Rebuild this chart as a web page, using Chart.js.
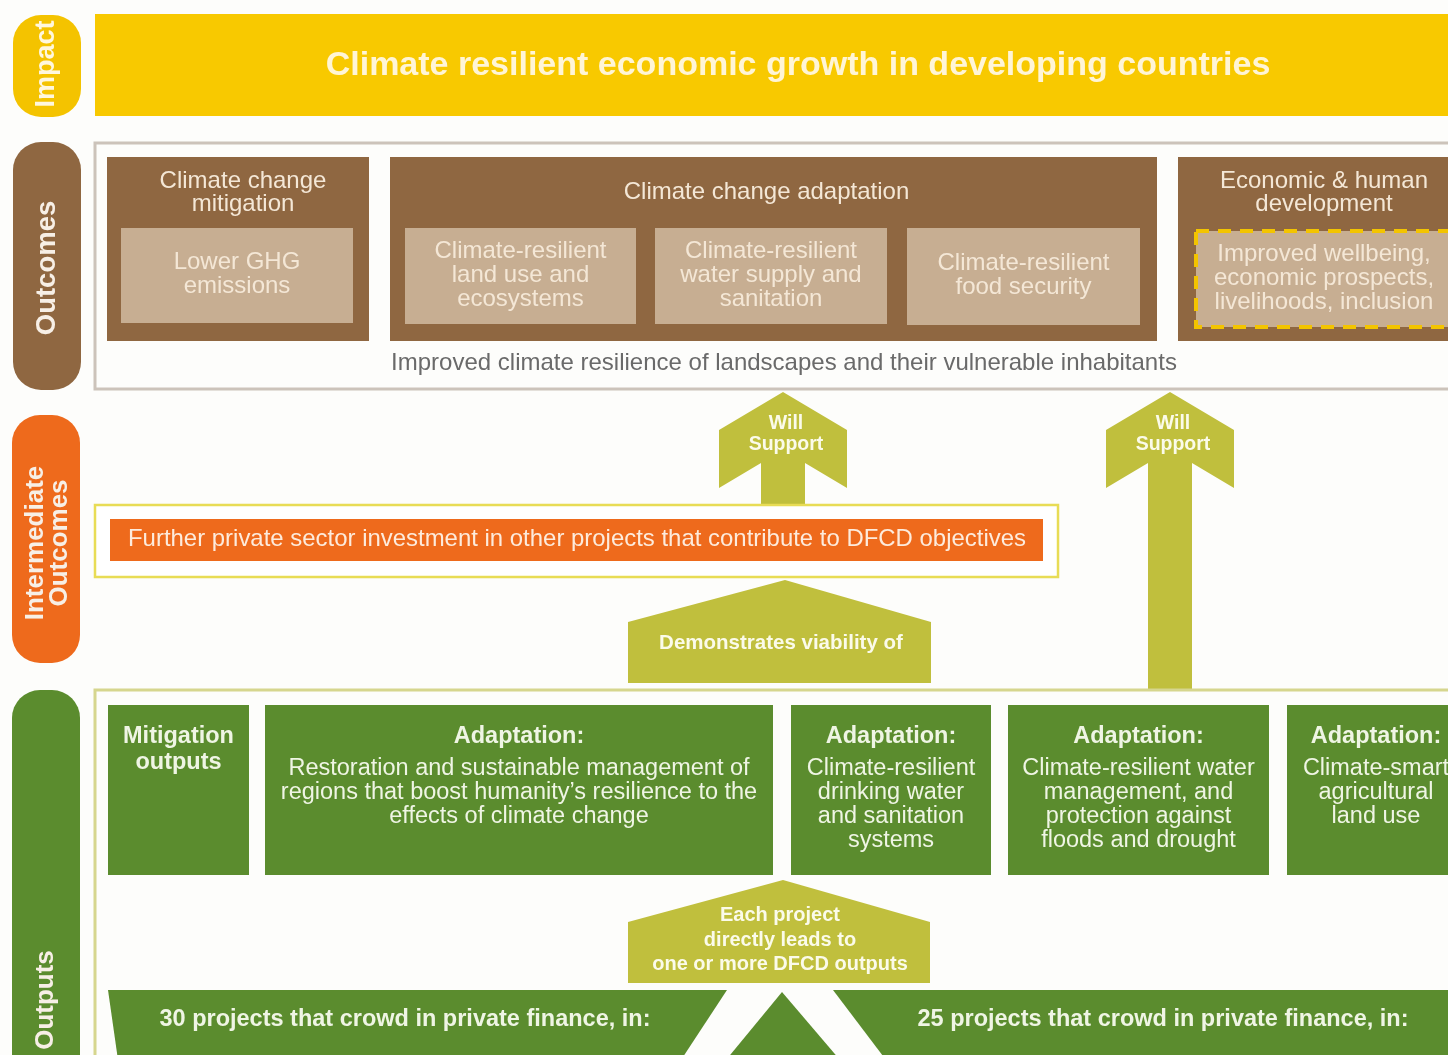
<!DOCTYPE html>
<html>
<head>
<meta charset="utf-8">
<script src="https://cdn.jsdelivr.net/npm/chart.js@4.4.1/dist/chart.umd.min.js"></script>
<style>
  html, body { margin: 0; padding: 0; background: #fdfdfb; }
  #wrap { width: 1448px; height: 1055px; }
</style>
</head>
<body>
<div id="wrap"><canvas id="c" width="1448" height="1055"></canvas></div>
<script>
// ---------- CONTENT (data) ----------
const rowLabels = ['Impact', 'Outcomes', 'Intermediate\nOutcomes', 'Outputs'];
const impactText = 'Climate resilient economic growth in developing countries';
const outcomeGroups = ['Climate change\nmitigation', 'Climate change adaptation', 'Economic & human\ndevelopment'];
const outcomeItems = [
  'Lower GHG\nemissions',
  'Climate-resilient\nland use and\necosystems',
  'Climate-resilient\nwater supply and\nsanitation',
  'Climate-resilient\nfood security',
  'Improved wellbeing,\neconomic prospects,\nlivelihoods, inclusion'
];
const outcomeCaption = 'Improved climate resilience of landscapes and their vulnerable inhabitants';
const intermediateText = 'Further private sector investment in other projects that contribute to DFCD objectives';
const arrowLabels = ['Will\nSupport', 'Will\nSupport'];
const connectorLabels = ['Demonstrates viability of', 'Each project\ndirectly leads to\none or more DFCD outputs'];
const outputTitles = ['Mitigation\noutputs', 'Adaptation:', 'Adaptation:', 'Adaptation:', 'Adaptation:'];
const outputBodies = [
  '',
  'Restoration and sustainable management of\nregions that boost humanity\u2019s resilience to the\neffects of climate change',
  'Climate-resilient\ndrinking water\nand sanitation\nsystems',
  'Climate-resilient water\nmanagement, and\nprotection against\nfloods and drought',
  'Climate-smart\nagricultural\nland use'
];
const projectCounts = [30, 25];
const projectSuffix = ' projects that crowd in private finance, in:';

// ---------- LAYOUT (diagram units on the chart's x/y scales) ----------
const L = {
  pills: [[13, 15, 81, 117], [13, 142, 81, 390], [12, 415, 80, 663], [12, 690, 80, 1090]],
  pillLabelY: [64, 268, 543, 1000],
  banner: [95, 14, 1460, 116],
  outcomesFrame: [95, 143, 1470, 389],
  groups: [[107, 157, 369, 341], [390, 157, 1157, 341], [1178, 157, 1470, 341]],
  groupTitleY: [193, 192, 193],
  items: [[121, 228, 353, 323], [405, 228, 636, 324], [655, 228, 887, 324], [907, 228, 1140, 325], [1196, 231, 1470, 327]],
  captionY: 363,
  interFrame: [95, 505, 1058, 577],
  interBar: [110, 519, 1043, 561],
  arrows: [{cx: 783, tip: 392, shoulder: 430, base: 488, notch: 463, half: 64, shaft: 22, bottom: 505},
           {cx: 1170, tip: 392, shoulder: 430, base: 488, notch: 463, half: 64, shaft: 22, bottom: 690}],
  pentagons: [{x0: 628, x1: 931, tip: 580, shoulder: 622, bottom: 683, apex: 785},
              {x0: 628, x1: 930, tip: 880, shoulder: 922, bottom: 983, apex: 783}],
  outputsFrame: [95, 690, 1470, 1080],
  outputBoxes: [[108, 705, 249, 875], [265, 705, 773, 875], [791, 705, 991, 875], [1008, 705, 1269, 875], [1287, 705, 1467, 875]],
  projLeft: [[108, 990], [727, 990], [681, 1060], [118, 1060]],
  projMid: [[782, 992], [840, 1060], [726, 1060]],
  projRight: [[833, 990], [1470, 990], [1470, 1060], [886, 1060]],
  projTextX: [405, 1163], projTextY: 1020
};
const C = {
  yellow: '#F8C900', yellowPill: '#F4C300', bannerText: '#FFF5D6',
  brown: '#8F6741', tan: '#C7AE92', brownText: '#F4E7D6', frameGrey: '#CCC3BA', caption: '#6A6A6A',
  olive: '#C0BF3D', orange: '#EE6A1C', orangeText: '#FDEBDC', interBorder: '#E8DC55',
  green: '#5B8C2E', greenText: '#EFF5E4', outBorder: '#D6D68E', dash: '#F3C400', white: '#FFFFFF'
};
const SANS = "'Liberation Sans', Arial, Helvetica, sans-serif";

// ---------- DRAWING PLUGIN ----------
const diagramPlugin = {
  id: 'diagram',
  afterDatasetsDraw(chart) {
    const ctx = chart.ctx, xs = chart.scales.x, ys = chart.scales.y;
    const X = v => xs.getPixelForValue(v), Y = v => ys.getPixelForValue(v);
    const rect = (r, fill, stroke, lw, dash) => {
      ctx.save();
      const x = X(r[0]), y = Y(r[1]), w = X(r[2]) - x, h = Y(r[3]) - y;
      if (fill) { ctx.fillStyle = fill; ctx.fillRect(x, y, w, h); }
      if (stroke) { ctx.strokeStyle = stroke; ctx.lineWidth = lw || 1; if (dash) ctx.setLineDash(dash); ctx.strokeRect(x, y, w, h); }
      ctx.restore();
    };
    const rrect = (r, rad, fill) => {
      ctx.save(); ctx.fillStyle = fill; ctx.beginPath();
      ctx.roundRect(X(r[0]), Y(r[1]), X(r[2]) - X(r[0]), Y(r[3]) - Y(r[1]), rad);
      ctx.fill(); ctx.restore();
    };
    const poly = (pts, fill) => {
      ctx.save(); ctx.fillStyle = fill; ctx.beginPath();
      pts.forEach((p, i) => i ? ctx.lineTo(X(p[0]), Y(p[1])) : ctx.moveTo(X(p[0]), Y(p[1])));
      ctx.closePath(); ctx.fill(); ctx.restore();
    };
    const text = (str, cx, cy, font, color, lh = 0, maxW = 0) => {
      const lines = str.split('\n');
      ctx.save(); ctx.font = font; ctx.fillStyle = color; ctx.textAlign = 'center'; ctx.textBaseline = 'middle';
      const y0 = Y(cy) - (lines.length - 1) * lh / 2;
      lines.forEach((ln, i) => maxW ? ctx.fillText(ln, X(cx), y0 + i * lh, maxW) : ctx.fillText(ln, X(cx), y0 + i * lh));
      ctx.restore();
    };
    const vtext = (str, cx, cy, font, color, lh, maxW) => {
      const lines = str.split('\n');
      ctx.save(); ctx.translate(X(cx), Y(cy)); ctx.rotate(-Math.PI / 2);
      ctx.font = font; ctx.fillStyle = color; ctx.textAlign = 'center'; ctx.textBaseline = 'middle';
      lines.forEach((ln, i) => ctx.fillText(ln, 0, (i - (lines.length - 1) / 2) * lh, maxW));
      ctx.restore();
    };

    // left pills
    const pillColors = [C.yellowPill, C.brown, C.orange, C.green];
    const pillFont = [27, 27.5, 26, 26];
    const pillMax = [90, 136, 164, 100];
    L.pills.forEach((r, i) => {
      rrect(r, 28, pillColors[i]);
      vtext(rowLabels[i], (r[0] + r[2]) / 2 + (i === 2 ? 2 : 0), L.pillLabelY[i], 'bold ' + pillFont[i] + 'px ' + SANS,
            i === 0 ? '#FFF7DE' : '#F7EFE6', 24, pillMax[i]);
    });

    // impact banner
    rect(L.banner, C.yellow);
    text(impactText, 798, 66, 'bold 34px ' + SANS, C.bannerText, 0, 952);

    // outcomes
    rect(L.outcomesFrame, null, C.frameGrey, 3);
    L.groups.forEach((r, i) => {
      rect(r, C.brown);
      text(outcomeGroups[i], (r[0] + r[2]) / 2 + (i === 1 ? -7 : (i === 0 ? 5 : 0)), L.groupTitleY[i], '24px ' + SANS, C.brownText, 23);
    });
    L.items.forEach((r, i) => {
      rect(r, C.tan);
      if (i === 4) rect(r, null, C.dash, 4, [13, 9]);
      const cx = i === 4 ? 1324 : (r[0] + r[2]) / 2;
      text(outcomeItems[i], cx, (r[1] + r[3]) / 2 - 1, '24px ' + SANS, C.brownText, 24);
    });
    text(outcomeCaption, 784, L.captionY, '24px ' + SANS, C.caption, 0, 786);

    // arrows
    L.arrows.forEach((a, i) => {
      poly([[a.cx, a.tip], [a.cx + a.half, a.shoulder], [a.cx + a.half, a.base], [a.cx + a.shaft, a.notch],
            [a.cx + a.shaft, a.bottom], [a.cx - a.shaft, a.bottom], [a.cx - a.shaft, a.notch],
            [a.cx - a.half, a.base], [a.cx - a.half, a.shoulder]], C.olive);
      text(arrowLabels[i], a.cx + 3, 434, 'bold 19.5px ' + SANS, '#FBFBEA', 20.5);
    });

    // intermediate outcome
    rect(L.interFrame, '#FFFFFF', C.interBorder, 2.5);
    rect(L.interBar, C.orange);
    text(intermediateText, 577, 539, '24px ' + SANS, C.orangeText, 0, 898);

    // outputs frame
    rect(L.outputsFrame, null, C.outBorder, 3);

    // connector pentagons
    L.pentagons.forEach((p) => {
      poly([[p.apex, p.tip], [p.x1, p.shoulder], [p.x1, p.bottom], [p.x0, p.bottom], [p.x0, p.shoulder]], C.olive);
    });
    text(connectorLabels[0], 781, 643, 'bold 20.5px ' + SANS, '#FBFBEA', 0, 246);
    text(connectorLabels[1], 780, 940, 'bold 20px ' + SANS, '#FBFBEA', 24.5, 264);

    // output boxes
    L.outputBoxes.forEach((r, i) => {
      rect(r, C.green);
      const cx = (r[0] + r[2]) / 2 + (i === 4 ? -1 : 0);
      if (i === 0) {
        text(outputTitles[i], cx, 750, 'bold 23.5px ' + SANS, C.greenText, 26, 114);
      } else {
        text(outputTitles[i], cx, 737, 'bold 23.5px ' + SANS, C.greenText);
        const n = outputBodies[i].split('\n').length;
        text(outputBodies[i], cx, 769 + (n - 1) * 23.7 / 2, '23.5px ' + SANS, C.greenText, 23.7, r[2] - r[0] - 14);
      }
    });

    // project trapezoids
    poly(L.projLeft, C.green);
    poly(L.projMid, C.green);
    poly(L.projRight, C.green);
    projectCounts.forEach((n, i) => {
      text(n + projectSuffix, L.projTextX[i], L.projTextY, 'bold 23.5px ' + SANS, C.greenText, 0, 500);
    });
  }
};

new Chart(document.getElementById('c'), {
  type: 'scatter',
  data: { datasets: [{ data: [], pointRadius: 0 }] },
  options: {
    responsive: false,
    animation: false,
    layout: { padding: 0 },
    plugins: { legend: { display: false }, tooltip: { enabled: false } },
    scales: {
      x: { type: 'linear', min: 0, max: 1448, display: false },
      y: { type: 'linear', min: 0, max: 1055, reverse: true, display: false }
    }
  },
  plugins: [diagramPlugin]
});
</script>
</body>
</html>
